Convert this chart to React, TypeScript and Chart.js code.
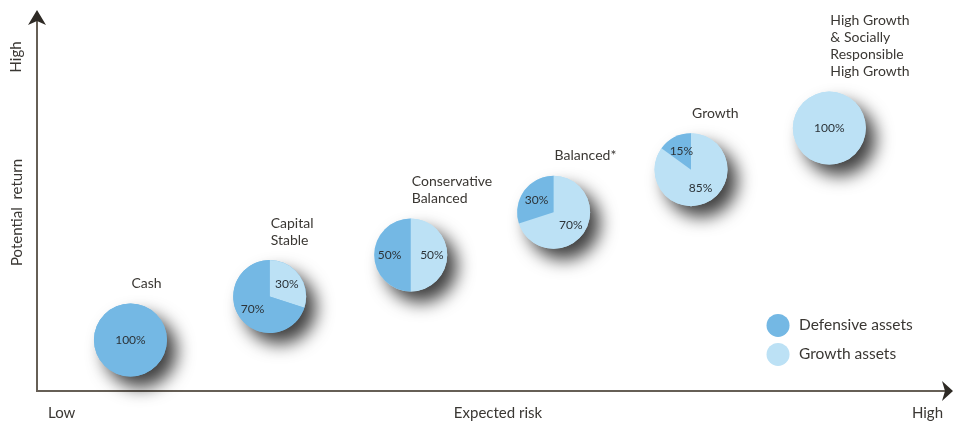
import { useEffect, useRef } from 'react';
import { Chart, registerables } from 'chart.js';

Chart.register(...registerables);

// ---- data ----
const fundNames: string[][] = [
  ['Cash'],
  ['Capital', 'Stable'],
  ['Conservative', 'Balanced'],
  ['Balanced*'],
  ['Growth'],
  ['High Growth', '& Socially', 'Responsible', 'High Growth'],
];
const expectedRisk = [1.02, 2.54, 4.08, 5.64, 7.14, 8.65];
const potentialReturn = [1.34, 2.48, 3.57, 4.69, 5.81, 6.9];
const growthAssets = [0, 30, 50, 70, 85, 100];
const defensiveAssets = [100, 70, 50, 30, 15, 0];
const legendLabels = ['Defensive assets', 'Growth assets'];
const riskAxisLabels = ['Low', 'Expected risk', 'High'];
const returnAxisLabels = ['Potential  return', 'High'];

// ---- styles ----
const DEFENSIVE = '#74b8e4';
const GROWTH = '#bce1f5';
const TEXT = '#3a3733';
const AXIS = '#665f56';
const ARROW = '#2e2a25';
const FONT = 'Lato, "Open Sans", sans-serif';
const PIE_R = 36.5;

const piePlugin = {
  id: 'pies',
  afterDatasetsDraw(chart: any) {
    const ctx: CanvasRenderingContext2D = chart.ctx;
    const xs = chart.scales.x;
    const ys = chart.scales.y;
    const dpr = chart.currentDevicePixelRatio || 1;
    const area = chart.chartArea;

    // axes
    const ox = xs.getPixelForValue(xs.min);
    const oy = ys.getPixelForValue(ys.min);
    const top = area.top;
    const right = area.right;
    ctx.save();
    ctx.strokeStyle = AXIS;
    ctx.lineWidth = 2;
    ctx.beginPath();
    ctx.moveTo(ox, oy);
    ctx.lineTo(ox, top + 10);
    ctx.moveTo(ox - 1, oy);
    ctx.lineTo(right - 8, oy);
    ctx.stroke();
    ctx.fillStyle = ARROW;
    ctx.beginPath();
    ctx.moveTo(ox, top);
    ctx.lineTo(ox + 9, top + 15);
    ctx.lineTo(ox, top + 11);
    ctx.lineTo(ox - 9, top + 15);
    ctx.closePath();
    ctx.fill();
    ctx.beginPath();
    ctx.moveTo(right, oy);
    ctx.lineTo(right - 11, oy + 10);
    ctx.lineTo(right - 8, oy);
    ctx.lineTo(right - 11, oy - 10);
    ctx.closePath();
    ctx.fill();

    // axis labels
    ctx.fillStyle = TEXT;
    ctx.font = `15px ${FONT}`;
    ctx.textBaseline = 'middle';
    ctx.textAlign = 'left';
    ctx.fillText(riskAxisLabels[0], ox + 11, oy + 22);
    ctx.textAlign = 'center';
    ctx.fillText(riskAxisLabels[1], (ox + right) / 2 + 3, oy + 22);
    ctx.textAlign = 'right';
    ctx.fillText(riskAxisLabels[2], right - 10, oy + 22);

    ctx.save();
    ctx.translate(ox - 20, (top + oy) / 2 + 12);
    ctx.rotate(-Math.PI / 2);
    ctx.textAlign = 'center';
    ctx.fillText(returnAxisLabels[0], 0, 0);
    ctx.restore();
    ctx.save();
    ctx.translate(ox - 21, top + 47);
    ctx.rotate(-Math.PI / 2);
    ctx.textAlign = 'center';
    ctx.fillText(returnAxisLabels[1], 0, 0);
    ctx.restore();
    ctx.restore();

    // pies
    for (let i = 0; i < fundNames.length; i++) {
      const cx = xs.getPixelForValue(expectedRisk[i]);
      const cy = ys.getPixelForValue(potentialReturn[i]);
      const shares = [growthAssets[i], defensiveAssets[i]];
      const colors = [GROWTH, DEFENSIVE];
      const total = shares[0] + shares[1];

      ctx.save();
      ctx.shadowColor = 'rgba(0,0,0,0.75)';
      ctx.shadowBlur = 17 * dpr;
      ctx.shadowOffsetX = 10 * dpr;
      ctx.shadowOffsetY = 11 * dpr;
      ctx.fillStyle = shares[0] >= shares[1] ? GROWTH : DEFENSIVE;
      ctx.beginPath();
      ctx.arc(cx, cy, PIE_R, 0, Math.PI * 2);
      ctx.fill();
      ctx.restore();

      let a = -Math.PI / 2;
      const mids: number[] = [];
      for (let k = 0; k < 2; k++) {
        const sweep = (shares[k] / total) * Math.PI * 2;
        mids.push(a + sweep / 2);
        if (sweep > 0) {
          ctx.fillStyle = colors[k];
          ctx.beginPath();
          ctx.moveTo(cx, cy);
          ctx.arc(cx, cy, PIE_R, a, a + sweep);
          ctx.closePath();
          ctx.fill();
        }
        a += sweep;
      }

      ctx.fillStyle = '#2c3338';
      ctx.font = `12px ${FONT}`;
      ctx.textAlign = 'center';
      ctx.textBaseline = 'middle';
      for (let k = 0; k < 2; k++) {
        if (shares[k] <= 0) continue;
        if (shares[k] === total) {
          ctx.fillText(`${shares[k]}%`, cx, cy);
        } else {
          const rr = PIE_R * 0.58;
          ctx.fillText(`${shares[k]}%`, cx + Math.cos(mids[k]) * rr, cy + Math.sin(mids[k]) * rr);
        }
      }

      // fund label
      ctx.fillStyle = TEXT;
      ctx.font = `14px ${FONT}`;
      ctx.textAlign = 'left';
      const lines = fundNames[i];
      const lh = 17;
      const lastY = cy - PIE_R - 20;
      lines.forEach((ln, j) => {
        ctx.fillText(ln, cx + 1, lastY - (lines.length - 1 - j) * lh);
      });
    }

    // legend
    const lx = xs.getPixelForValue(8.09);
    const ly = ys.getPixelForValue(1.72);
    const legendColors = [DEFENSIVE, GROWTH];
    legendLabels.forEach((lab, j) => {
      const yy = ly + j * 29;
      ctx.fillStyle = legendColors[j];
      ctx.beginPath();
      ctx.arc(lx, yy, 11.5, 0, Math.PI * 2);
      ctx.fill();
      ctx.fillStyle = TEXT;
      ctx.font = `15.5px ${FONT}`;
      ctx.textAlign = 'left';
      ctx.textBaseline = 'middle';
      ctx.fillText(lab, lx + 21, yy);
    });
  },
};

export default function App() {
  const ref = useRef<HTMLCanvasElement | null>(null);
  useEffect(() => {
    if (!ref.current) return;
    const chart = new Chart(ref.current, {
      type: 'scatter',
      data: {
        datasets: [
          {
            label: 'Funds',
            data: expectedRisk.map((x, i) => ({ x, y: potentialReturn[i] })),
            pointRadius: 0,
            pointHoverRadius: 0,
          },
        ],
      },
      options: {
        animation: false,
        responsive: false,
        devicePixelRatio: 1,
        layout: { padding: { left: 37, right: 4, top: 10, bottom: 32 } },
        scales: {
          x: { type: 'linear', min: 0, max: 10, display: false },
          y: { type: 'linear', min: 0, max: 10, display: false },
        },
        plugins: { legend: { display: false }, tooltip: { enabled: false } },
      },
      plugins: [piePlugin],
    });
    return () => chart.destroy();
  }, []);
  return (
    <div style={{ position: 'fixed', left: 0, top: 0, width: 957, height: 423, background: '#fff' }}>
      <canvas ref={ref} width={957} height={423} style={{ display: 'block' }} />
    </div>
  );
}
